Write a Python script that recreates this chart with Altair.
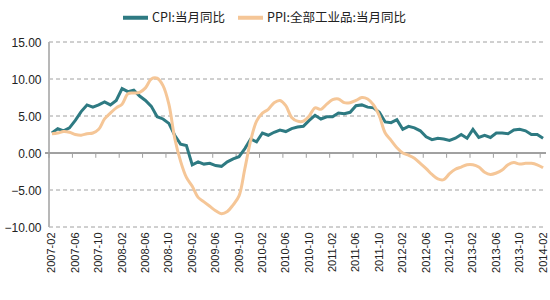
import altair as alt
import pandas as pd

# Month categories 2007-02 .. 2014-02
months = []
for y in range(2007, 2015):
    for m in range(1, 13):
        if (y == 2007 and m < 2) or (y == 2014 and m > 2):
            continue
        months.append(f"{y}-{m:02d}")

cpi = [2.7, 3.3, 3.0, 3.4, 4.4, 5.6, 6.5, 6.2, 6.5, 6.9, 6.5,
       7.1, 8.7, 8.3, 8.5, 7.7, 7.1, 6.3, 4.9, 4.6, 4.0, 2.4, 1.2,
       1.0, -1.6, -1.2, -1.5, -1.4, -1.7, -1.8, -1.2, -0.8, -0.5, 0.6, 1.9,
       1.5, 2.7, 2.4, 2.8, 3.1, 2.9, 3.3, 3.5, 3.6, 4.4, 5.1, 4.6,
       4.9, 4.9, 5.4, 5.3, 5.5, 6.4, 6.5, 6.2, 6.1, 5.5, 4.2, 4.1,
       4.5, 3.2, 3.6, 3.4, 3.0, 2.2, 1.8, 2.0, 1.9, 1.7, 2.0, 2.5,
       2.0, 3.2, 2.1, 2.4, 2.1, 2.7, 2.7, 2.6, 3.1, 3.2, 3.0, 2.5,
       2.5, 2.0]

ppi = [2.6, 2.7, 2.9, 2.8, 2.5, 2.4, 2.6, 2.7, 3.2, 4.6, 5.4,
       6.1, 6.6, 8.0, 8.1, 8.2, 8.8, 10.0, 10.1, 9.1, 6.6, 2.0, -1.1,
       -3.3, -4.5, -6.0, -6.6, -7.2, -7.8, -8.2, -7.9, -7.0, -5.8, -2.1, 1.7,
       4.3, 5.4, 5.9, 6.8, 7.1, 6.4, 4.8, 4.3, 4.3, 5.0, 6.1, 5.9,
       6.6, 7.2, 7.3, 6.8, 6.8, 7.1, 7.5, 7.3, 6.5, 5.0, 2.7, 1.7,
       0.7, 0.0, -0.3, -0.7, -1.4, -2.1, -2.9, -3.5, -3.6, -2.8, -2.2, -1.9,
       -1.6, -1.6, -1.9, -2.6, -2.9, -2.7, -2.3, -1.6, -1.3, -1.5, -1.4, -1.4,
       -1.6, -2.0]

series_names = ["CPI:当月同比", "PPI:全部工业品:当月同比"]
series_colors = ["#2E7A82", "#F5C697"]
tick_labels = months[::4]
y_ticks = [-10, -5, 0, 5, 10, 15]
grid_values = [-10, -5, 5, 10, 15]

df = pd.DataFrame({
    "month": months * 2,
    "value": cpi + ppi,
    "series": [series_names[0]] * len(months) + [series_names[1]] * len(months),
})
ticks_df = pd.DataFrame({"month": tick_labels})
grid_df = pd.DataFrame({"value": grid_values})

font = "Liberation Sans"

x_scale = alt.Scale(type="point", padding=0.5)
x_axis = alt.Axis(values=tick_labels, labelAngle=270, labelOverlap=False,
                  labelFont=font, labelFontSize=11, labelColor="#222222", labelPadding=5,
                  domain=False, ticks=False, grid=False, title=None)
y_scale = alt.Scale(domain=[-10, 15], nice=False, zero=False)
y_axis = alt.Axis(values=y_ticks, format=".2f", labelOverlap=False, ticks=False,
                  labelFont=font, labelFontSize=12, labelColor="#222222", labelPadding=8,
                  domain=False, grid=False, title=None)

color = alt.Color("series:N",
                  scale=alt.Scale(domain=series_names, range=series_colors),
                  legend=alt.Legend(orient="none", legendX=72, legendY=-39,
                                    direction="horizontal", title=None,
                                    symbolType="stroke", symbolSize=625,
                                    symbolStrokeWidth=4, labelFontSize=12.5,
                                    labelFont="Liberation Sans Narrow, Noto Sans CJK SC",
                                    labelColor="#222222", labelOffset=2,
                                    columnPadding=4, padding=0, labelLimit=300))

grid_rules = alt.Chart(grid_df).mark_rule(color="#A0A0A0", strokeWidth=1, strokeDash=[4, 3]).encode(
    y=alt.Y("value:Q", scale=y_scale, axis=y_axis), x=alt.value(0), x2=alt.value(497))

y_line = alt.Chart(grid_df).mark_rule(color="#B8B8B8", strokeWidth=1.5).encode(
    x=alt.value(0), y=alt.value(0), y2=alt.value(185))

base = alt.Chart(df).encode(
    x=alt.X("month:O", sort=months, scale=x_scale, axis=x_axis),
    y=alt.Y("value:Q", scale=y_scale, axis=y_axis),
    color=color,
)

cpi_line = base.transform_filter(alt.datum.series == series_names[0]).mark_line(
    strokeWidth=3, interpolate="linear")
ppi_line = base.transform_filter(alt.datum.series == series_names[1]).mark_line(
    strokeWidth=3, interpolate="catmull-rom")

zero_rule = alt.Chart(ticks_df).mark_rule(color="#A0A0A0", strokeWidth=1).encode(
    y=alt.Y(datum=0, scale=y_scale, axis=y_axis), x=alt.value(-4), x2=alt.value(497))

tick_marks = alt.Chart(ticks_df).mark_rule(color="#A0A0A0", strokeWidth=1, xOffset=-2.9).encode(
    x=alt.X("month:O", sort=months, scale=x_scale, axis=x_axis),
    y=alt.Y(datum=0, scale=y_scale, axis=y_axis), y2=alt.datum(-0.65))

chart = alt.layer(grid_rules, y_line, zero_rule, tick_marks, cpi_line, ppi_line).properties(
    width=497, height=185,
    autosize=alt.AutoSizeParams(type="none"),
    padding={"left": 49, "top": 42, "right": 4, "bottom": 73},
    background="white",
).configure_view(stroke=None)

chart.save("out.html", embed_options={"renderer": "svg", "actions": False})
